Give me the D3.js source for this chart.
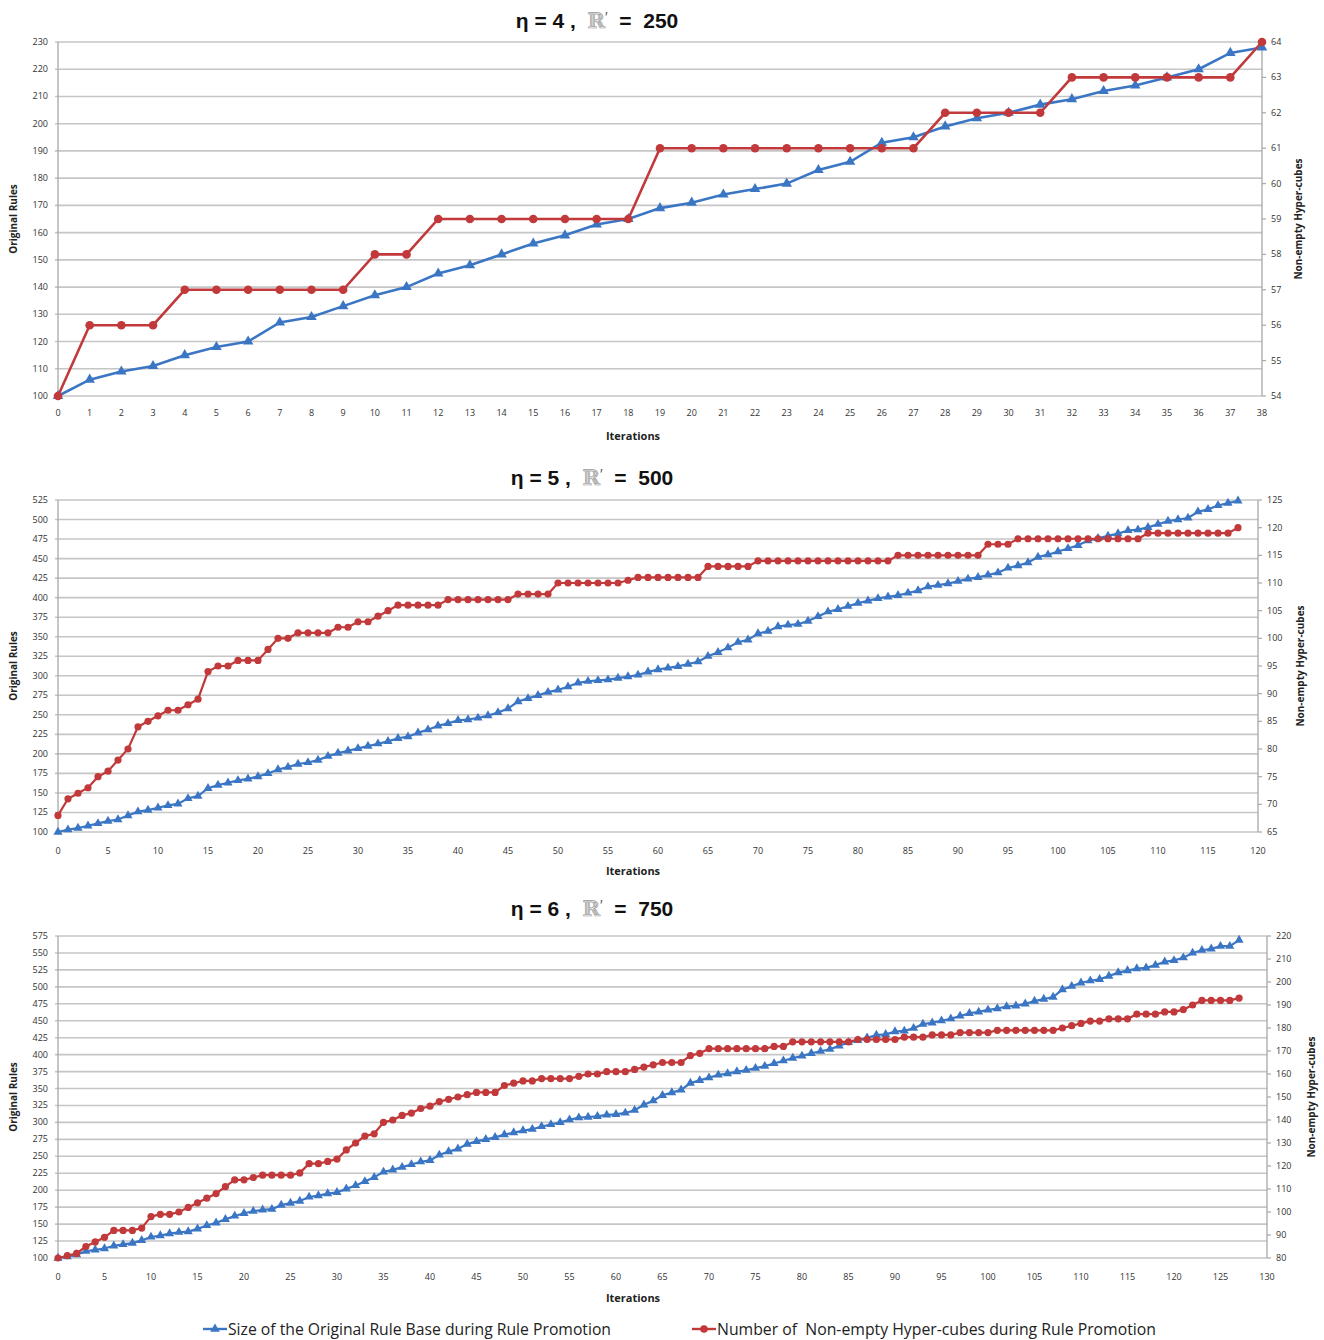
<!DOCTYPE html>
<html>
<head>
<meta charset="utf-8">
<script src="https://cdn.jsdelivr.net/npm/d3@7"></script>
<style>
  body { margin: 0; background: #fff; }
  svg { display: block; }
  .tick-lbl { font-family: "Open Sans", "DejaVu Sans", sans-serif; font-size: 9px; fill: #333; }
  .ax-title { font-family: "Open Sans", sans-serif; font-size: 10px; font-weight: 700; fill: #222; }
  .title { font-family: "Liberation Sans", Arial, sans-serif; font-size: 21px; font-weight: 700; fill: #111; }
  .legend { font-family: "Liberation Sans Narrow", "Open Sans", sans-serif; font-size: 16px; fill: #222; white-space: pre; }
</style>
</head>
<body>
<svg id="chart" width="1324" height="1340"></svg>
<script>
// panel 1: eta = 4, R' = 250
const p1Blue = [100,106,109,111,115,118,120,127,129,133,137,140,145,148,152,156,159,163,165,169,
  171,174,176,178,183,186,193,195,199,202,204,207,209,212,214,217,220,226,228];
const p1Red = [54,56,56,56,57,57,57,57,57,57,58,58,59,59,59,59,59,59,59,61,
  61,61,61,61,61,61,61,61,62,62,62,62,63,63,63,63,63,63,64];

// panel 2: eta = 5, R' = 500
const p2Blue = [100,103,105,108,111,114,116,121,126,128,
  131,134,136,143,146,156,160,163,166,168,
  171,175,180,183,187,189,192,197,201,204,
  207,210,213,216,220,222,227,231,236,239,
  243,244,246,249,253,258,267,271,275,279,
  282,286,291,293,294,295,297,299,301,305,
  308,310,312,315,318,325,330,336,343,346,
  354,357,363,365,366,370,376,382,385,389,
  393,396,399,401,403,406,409,414,416,418,
  421,424,426,429,432,438,441,445,452,455,
  459,463,467,473,476,479,482,486,487,490,
  494,498,500,502,510,513,518,521,524];
const p2Red = [68,71,72,73,75,76,78,80,84,85,
  86,87,87,88,89,94,95,95,96,96,
  96,98,100,100,101,101,101,101,102,102,
  103,103,104,105,106,106,106,106,106,107,
  107,107,107,107,107,107,108,108,108,108,
  110,110,110,110,110,110,110,110.5,111,111,
  111,111,111,111,111,113,113,113,113,113,
  114,114,114,114,114,114,114,114,114,114,
  114,114,114,114,115,115,115,115,115,115,
  115,115,115,117,117,117,118,118,118,118,
  118,118,118,118,118,118,118,118,118,119,
  119,119,119,119,119,119,119,119,120];

// panel 3: eta = 6, R' = 750
const p3Blue = [100,102,105,110,112,114,118,120,122,126,
  131,133,136,138,139,143,148,152,157,162,
  166,169,171,172,178,181,184,190,192,195,
  197,202,207,213,219,227,230,234,238,242,
  244,252,257,261,268,272,275,278,282,285,
  288,290,294,297,300,304,307,308,309,311,
  312,314,318,326,332,340,344,348,358,362,
  366,370,372,375,377,380,383,387,391,395,
  398,402,405,408,413,418,421,425,429,430,
  434,435,439,445,447,450,453,457,461,463,
  466,468,471,472,475,479,482,485,496,501,
  506,509,511,516,521,524,527,528,532,537,
  539,543,550,554,556,560,560,569];
const p3Red = [80,81,82,85,87,89,92,92,92,93,
  98,99,99,100,102,104,106,108,111,114,
  114,115,116,116,116,116,117,121,121,122,
  123,127,130,133,134,139,140,142,143,145,
  146,148,149,150,151,152,152,152,155,156,
  157,157,158,158,158,158,159,160,160,161,
  161,161,162,163,164,165,165,165,168,169,
  171,171,171,171,171,171,171,172,172,174,
  174,174,174,174,174,174,175,175,175,175,
  175,176,176,176,177,177,177,178,178,178,
  178,179,179,179,179,179,179,179,180,181,
  182,183,183,184,184,184,186,186,186,187,
  187,188,190,192,192,192,192,193];

const etaValues = ["4", "5", "6"];
const rValues = ["250", "500", "750"];
const leftTitle = "Original Rules";
const rightTitle = "Non-empty Hyper-cubes";
const xTitle = "Iterations";
const legendLabels = ["Size of the Original Rule Base during Rule Promotion",
  "Number of  Non-empty Hyper-cubes during Rule Promotion"];

const BLUE = "#3b76c4", RED = "#c1393a", GRID = "#c6c6c6", AXIS = "#a8a8a8";

const svg = d3.select("#chart");

// layout per panel
const panels = [
  { blue: p1Blue, red: p1Red, x0: 58, x1: 1262, y0: 42, y1: 396, xMax: 38, xStep: 1,
    yl: [100, 230], ylStep: 10, yr: [54, 64], yrStep: 1,
    titleX: 597, titleY: 28, tickY: 416, iterY: 440, lx: 17, rx: 1302 },
  { blue: p2Blue, red: p2Red, x0: 58, x1: 1258, y0: 500, y1: 832, xMax: 120, xStep: 5,
    yl: [100, 525], ylStep: 25, yr: [65, 125], yrStep: 5,
    titleX: 592, titleY: 485, tickY: 854, iterY: 875, lx: 17, rx: 1304 },
  { blue: p3Blue, red: p3Red, x0: 58, x1: 1267, y0: 936, y1: 1258, xMax: 130, xStep: 5,
    yl: [100, 575], ylStep: 25, yr: [80, 220], yrStep: 10,
    titleX: 592, titleY: 916, tickY: 1280, iterY: 1302, lx: 17, rx: 1315 }
];

function drawPanel(p, k) {
  const g = svg.append("g");
  const x = d3.scaleLinear().domain([0, p.xMax]).range([p.x0, p.x1]);
  const yL = d3.scaleLinear().domain(p.yl).range([p.y1, p.y0]);
  const yR = d3.scaleLinear().domain(p.yr).range([p.y1, p.y0]);

  const lTicks = d3.range(p.yl[0], p.yl[1] + 0.1, p.ylStep);
  const rTicks = d3.range(p.yr[0], p.yr[1] + 0.1, p.yrStep);
  const xTicks = d3.range(0, p.xMax + 0.1, p.xStep);

  // gridlines
  g.selectAll(".grid").data(lTicks).join("line")
    .attr("x1", p.x0 - 3).attr("x2", p.x1)
    .attr("y1", d => yL(d)).attr("y2", d => yL(d))
    .attr("stroke", GRID).attr("stroke-width", 1.6);

  // axes lines
  g.append("line").attr("x1", p.x0).attr("x2", p.x0).attr("y1", p.y0).attr("y2", p.y1)
    .attr("stroke", AXIS).attr("stroke-width", 1.3);
  g.append("line").attr("x1", p.x1).attr("x2", p.x1).attr("y1", p.y0).attr("y2", p.y1)
    .attr("stroke", AXIS).attr("stroke-width", 1.3);
  g.selectAll(".rtick").data(rTicks).join("line")
    .attr("x1", p.x1).attr("x2", p.x1 + 4)
    .attr("y1", d => yR(d)).attr("y2", d => yR(d))
    .attr("stroke", AXIS).attr("stroke-width", 1.2);

  // tick labels
  g.selectAll(".ll").data(lTicks).join("text").attr("class", "tick-lbl")
    .attr("x", p.x0 - 10).attr("y", d => yL(d) + 3).attr("text-anchor", "end")
    .text(d => d);
  g.selectAll(".rl").data(rTicks).join("text").attr("class", "tick-lbl")
    .attr("x", p.x1 + 9).attr("y", d => yR(d) + 3).attr("text-anchor", "start")
    .text(d => d);
  g.selectAll(".xl").data(xTicks).join("text").attr("class", "tick-lbl")
    .attr("x", d => x(d)).attr("y", p.tickY).attr("text-anchor", "middle")
    .text(d => d);

  // axis titles
  g.append("text").attr("class", "ax-title")
    .attr("transform", `translate(${p.lx},${(p.y0 + p.y1) / 2}) rotate(-90)`)
    .attr("text-anchor", "middle").text(leftTitle);
  g.append("text").attr("class", "ax-title")
    .attr("transform", `translate(${p.rx},${(p.y0 + p.y1) / 2}) rotate(-90)`)
    .attr("text-anchor", "middle").text(rightTitle);
  g.append("text").attr("class", "ax-title").style("font-size", "11px")
    .attr("x", 633).attr("y", p.iterY).attr("text-anchor", "middle")
    .text(xTitle);

  // title
  const t = g.append("text").attr("class", "title")
    .attr("x", p.titleX).attr("y", p.titleY).attr("text-anchor", "middle");
  t.append("tspan").text("η = " + etaValues[k] + " ,  ");
  t.append("tspan").attr("fill", "#f4f4f4").attr("stroke", "#999").attr("stroke-width", 0.7)
    .style("font-family", "'DejaVu Serif', serif").style("font-weight", 400).text("ℝ");
  t.append("tspan").attr("dy", -6).style("font-size", "14px").style("font-weight", 400)
    .attr("fill", "#555").text("′");
  t.append("tspan").attr("dy", 6).text("  =  " + rValues[k]);
  t.style("white-space", "pre");

  // series
  const lineL = d3.line().x((d, i) => x(i)).y(d => yL(d));
  const lineR = d3.line().x((d, i) => x(i)).y(d => yR(d));
  const sw = k === 0 ? 2.6 : 2.2;

  g.append("path").datum(p.blue).attr("d", lineL)
    .attr("fill", "none").attr("stroke", BLUE).attr("stroke-width", sw);
  g.append("path").datum(p.red).attr("d", lineR)
    .attr("fill", "none").attr("stroke", RED).attr("stroke-width", sw);

  const tri = d3.symbol().type(d3.symbolTriangle).size(k === 0 ? 48 : 36);
  g.selectAll(".bm").data(p.blue).join("path")
    .attr("d", tri).attr("transform", (d, i) => `translate(${x(i)},${yL(d)})`)
    .attr("fill", BLUE);
  g.selectAll(".rm").data(p.red).join("circle")
    .attr("cx", (d, i) => x(i)).attr("cy", d => yR(d)).attr("r", k === 0 ? 4.3 : 3.6)
    .attr("fill", RED);
}

panels.forEach(drawPanel);

// legend
const legend = svg.append("g");
const legendItems = [
  { color: BLUE, x: 203, sym: "tri", label: legendLabels[0], w: 383 },
  { color: RED, x: 692, sym: "circ", label: legendLabels[1], w: 439 }
];
legendItems.forEach(it => {
  legend.append("line").attr("x1", it.x).attr("x2", it.x + 24)
    .attr("y1", 1329).attr("y2", 1329).attr("stroke", it.color).attr("stroke-width", 2.4);
  if (it.sym === "tri") {
    legend.append("path").attr("d", d3.symbol().type(d3.symbolTriangle).size(40)())
      .attr("transform", `translate(${it.x + 12},1329)`).attr("fill", it.color);
  } else {
    legend.append("circle").attr("cx", it.x + 12).attr("cy", 1329).attr("r", 3.8).attr("fill", it.color);
  }
  legend.append("text").attr("class", "legend")
    .attr("x", it.x + 25).attr("y", 1335)
    .attr("textLength", it.w).attr("lengthAdjust", "spacingAndGlyphs")
    .text(it.label);
});
</script>
</body>
</html>
